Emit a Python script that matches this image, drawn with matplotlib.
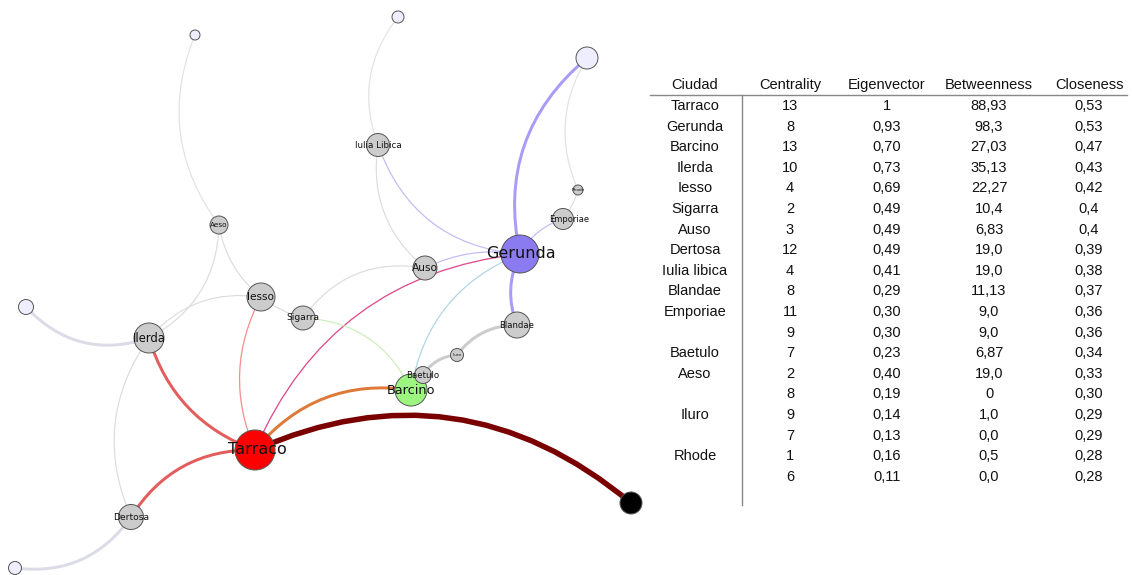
import matplotlib.pyplot as plt
from matplotlib.patches import Circle, FancyArrowPatch

# ---------------- network data ----------------
node_ids = ['Tarraco', 'Gerunda', 'Barcino', 'Ilerda', 'Iesso', 'Sigarra', 'Auso',
            'Dertosa', 'Iulia Libica', 'Blandae', 'Emporiae', 'Baetulo', 'Aeso',
            'Iluro', 'Rhode', 'N1', 'N2', 'N3', 'N4', 'N5', 'N6']
node_x = [255, 520, 411, 149, 261, 303, 425, 131, 378, 517, 563, 423, 219,
          457, 578, 631, 195, 398, 587, 26, 15]
node_y = [450, 254, 390, 338, 297, 318, 268, 517, 145, 325, 219, 375, 225,
          355, 190, 503, 35, 17, 58, 307, 568]
node_r = [20, 19, 16, 15, 14, 12, 12, 12.5, 11.5, 13, 10.5, 8.5, 9,
          6.5, 5, 11, 5, 6, 11, 7.5, 6.5]

node_color = {'Tarraco': '#ff0000', 'Gerunda': '#8a7cf0', 'Barcino': '#9cf57f',
              'N1': '#000000', 'N2': '#eeeeff', 'N3': '#eeeeff', 'N4': '#eeeeff',
              'N5': '#eeeeff', 'N6': '#eeeeff'}
label_size = {'Tarraco': 11.5, 'Gerunda': 11.5, 'Barcino': 9.3, 'Ilerda': 8.4,
              'Iesso': 7.6, 'Sigarra': 6.6, 'Auso': 7.7, 'Dertosa': 6.6,
              'Iulia Libica': 6.3, 'Blandae': 6.1, 'Emporiae': 6.0, 'Baetulo': 6.2,
              'Aeso': 5.2, 'Iluro': 3.0, 'Rhode': 3.0}
label_dx = {'Emporiae': 6, 'Tarraco': 2, 'Gerunda': 1}

# edges: (from, to, curvature, colour, width in px)
edges = [
    ('Tarraco', 'N1', -0.31, '#7a0000', 5.5),
    ('Tarraco', 'Barcino', -0.28, '#dd7a3a', 3),
    ('Ilerda', 'Tarraco', 0.25, '#e35d5d', 3),
    ('Dertosa', 'Tarraco', -0.28, '#e35d5d', 3),
    ('Iesso', 'Tarraco', 0.24, '#f59090', 1.3),
    ('Tarraco', 'Gerunda', -0.29, '#dd4c8c', 1.3),
    ('Gerunda', 'N4', -0.30, '#a99cf6', 3),
    ('Gerunda', 'Blandae', 0.22, '#a99cf6', 3),
    ('Iulia Libica', 'Gerunda', 0.32, '#c2bbf3', 1.2),
    ('Gerunda', 'Emporiae', -0.2, '#c2bbf3', 1.2),
    ('Auso', 'Gerunda', -0.16, '#c2bbf3', 1.2),
    ('Barcino', 'Gerunda', -0.28, '#b0d4e4', 1.2),
    ('Sigarra', 'Barcino', -0.30, '#cdeebc', 1.2),
    ('Baetulo', 'Iluro', -0.25, '#cccccc', 3),
    ('Iluro', 'Blandae', -0.25, '#cccccc', 3),
    ('Emporiae', 'Rhode', 0.1, '#dddddd', 1.2),
    ('Rhode', 'N4', -0.26, '#e2e2e2', 1.2),
    ('Iulia Libica', 'N3', -0.28, '#e2e2e2', 1.2),
    ('Iulia Libica', 'Auso', 0.28, '#dddddd', 1.2),
    ('Sigarra', 'Auso', -0.31, '#dddddd', 1.2),
    ('Iesso', 'Sigarra', 0.1, '#dddddd', 1.2),
    ('Ilerda', 'Iesso', -0.27, '#dddddd', 1.2),
    ('Aeso', 'Ilerda', -0.29, '#dddddd', 1.2),
    ('Aeso', 'Iesso', 0.19, '#dddddd', 1.2),
    ('Aeso', 'N2', -0.28, '#e2e2e2', 1.2),
    ('N5', 'Ilerda', 0.32, '#dcdce8', 3),
    ('Ilerda', 'Dertosa', 0.28, '#dddddd', 1.2),
    ('Dertosa', 'N6', -0.30, '#dcdce8', 3),
]

# ---------------- table data ----------------
headers = ['Ciudad', 'Centrality', 'Eigenvector', 'Betweenness', 'Closeness']
ciudad = ['Tarraco', 'Gerunda', 'Barcino', 'Ilerda', 'Iesso', 'Sigarra', 'Auso',
          'Dertosa', 'Iulia libica', 'Blandae', 'Emporiae', '', 'Baetulo', 'Aeso',
          '', 'Iluro', '', 'Rhode', '']
centrality = ['13', '8', '13', '10', '4', '2', '3', '12', '4', '8', '11', '9',
              '7', '2', '8', '9', '7', '1', '6']
eigenvector = ['1', '0,93', '0,70', '0,73', '0,69', '0,49', '0,49', '0,49', '0,41',
               '0,29', '0,30', '0,30', '0,23', '0,40', '0,19', '0,14', '0,13',
               '0,16', '0,11']
betweenness = ['88,93', '98,3', '27,03', '35,13', '22,27', '10,4', '6,83', '19,0',
               '19,0', '11,13', '9,0', '9,0', '6,87', '19,0', '0', '1,0', '0,0',
               '0,5', '0,0']
closeness = ['0,53', '0,53', '0,47', '0,43', '0,42', '0,4', '0,4', '0,39', '0,38',
             '0,37', '0,36', '0,36', '0,34', '0,33', '0,30', '0,29', '0,29',
             '0,28', '0,28']

# ---------------- figure ----------------
fig = plt.figure(figsize=(11.32, 5.75), dpi=100)
ax = fig.add_axes([0, 0, 1, 1])
ax.set_xlim(0, 1132)
ax.set_ylim(575, 0)
ax.axis('off')

pos = {n: (x, y) for n, x, y in zip(node_ids, node_x, node_y)}

for a, b, rad, col, w in edges:
    p = FancyArrowPatch(pos[a], pos[b], arrowstyle='-',
                        connectionstyle='arc3,rad=%s' % rad,
                        shrinkA=0, shrinkB=0, color=col, lw=w * 0.72,
                        zorder=1)
    ax.add_patch(p)

for n, x, y, r in zip(node_ids, node_x, node_y, node_r):
    fc = node_color.get(n, '#cccccc')
    ax.add_patch(Circle((x, y), r, facecolor=fc, edgecolor='#555555',
                        lw=0.7, zorder=2))
    if n in label_size:
        ax.text(x + label_dx.get(n, 0), y, n, fontsize=label_size[n],
                ha='center', va='center', color='#111111',
                family='DejaVu Sans', zorder=3)

# table
tfont = 'Liberation Sans'
tsize = 10.5
col_x = [695, 790, 887, 989, 1089]
ax.plot([650, 1127], [95, 95], color='#888888', lw=1)
ax.plot([742, 742], [95, 505], color='#888888', lw=1)
for cx, h in zip(col_x, headers):
    ax.text(cx, 85, h, fontsize=tsize, ha='center', va='center',
            family=tfont, color='#111111')

row0 = 106
step = 20.6
cols = [ciudad, centrality, eigenvector, betweenness, closeness]
for i in range(len(ciudad)):
    for cx, col in zip(col_x, cols):
        ax.text(cx, row0 + i * step, col[i], fontsize=tsize, ha='center',
                va='center', family=tfont, color='#111111')

fig.savefig('out.png', dpi=100)
